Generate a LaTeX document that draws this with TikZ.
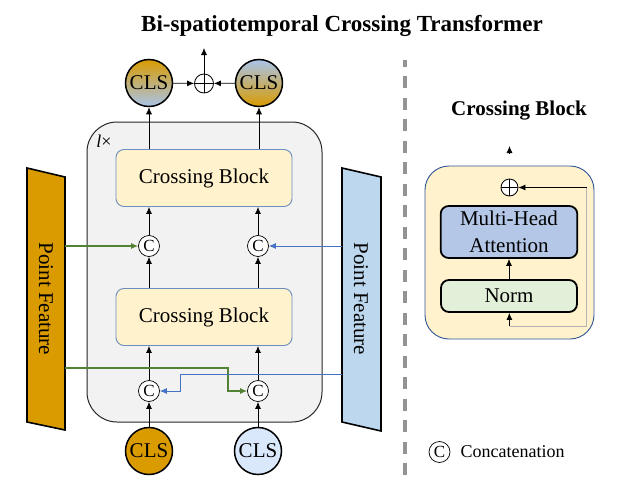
\documentclass[tikz,border=0pt]{standalone}
\usepackage{fontspec}
\setmainfont{Liberation Serif}
\usepackage{tikz}
\usetikzlibrary{shapes,arrows,arrows.meta}
\definecolor{pforange}{HTML}{D99B00}
\definecolor{pfblue}{HTML}{BDD7EE}
\definecolor{clsblue}{HTML}{DAE8FC}
\definecolor{shblue}{HTML}{A9C4EB}
\definecolor{blkfill}{HTML}{FFF2CC}
\definecolor{blkedge}{HTML}{6C8EBF}
\definecolor{mhafill}{HTML}{B4C7E7}
\definecolor{normfill}{HTML}{E2F0D9}
\definecolor{gline}{HTML}{548235}
\definecolor{bline}{HTML}{4472C4}
\definecolor{outer}{HTML}{F2F2F2}
\definecolor{detedge}{HTML}{2F5597}
\tikzstyle{block} = [draw=blkedge, fill=blkfill, rounded corners=8pt, line width=0.9pt,
    minimum width=176pt, minimum height=57pt]
\tikzstyle{cat} = [draw, circle, fill=white, inner sep=0pt, minimum size=21pt, line width=0.7pt,
    font=\fontsize{17}{17}\selectfont]
\tikzstyle{cls} = [draw, circle, inner sep=0pt, minimum size=47pt, line width=1.5pt]
\tikzstyle{oplus} = [draw, circle, fill=white, inner sep=0pt, minimum size=19pt, line width=0.8pt,
    path picture={\draw[line width=0.8pt] (path picture bounding box.north) -- (path picture bounding box.south)
    (path picture bounding box.west) -- (path picture bounding box.east);}]
\tikzstyle{feat} = [draw, line width=1.6pt]
\tikzstyle{inner} = [draw, line width=1.8pt, rounded corners=8pt, minimum width=136pt]
\tikzstyle{line} = [draw, -{Latex[length=7pt,width=6pt]}, line width=0.8pt]

\begin{document}
\begin{tikzpicture}[x=1pt, y=-1pt, node distance=60pt, font=\fontsize{21}{24}\selectfont]
    \useasboundingbox (0,0) rectangle (625,485);
    \node [font=\fontsize{23}{26}\selectfont\bfseries] (title) at (342,26) {Bi-spatiotemporal Crossing Transformer};
    \node [draw=black!85, fill=outer, rounded corners=30pt, line width=1pt, minimum width=235pt, minimum height=300pt] (layer) at (204.5,272) {};
    \node [font=\fontsize{18}{18}\selectfont] (rep) at (104,141) {{\itshape l}×};
    \node [cls, fill=pforange] (clsbl) at (149,451) {CLS};
    \node [cls, fill=clsblue, right of=clsbl, node distance=109pt] (clsbr) {CLS};
    \node [cat, above of=clsbl] (catbl) {C};
    \node [cat, above of=clsbr] (catbr) {C};
    \node [block] (cblow) at (204,317) {Crossing Block};
    \node [cat] (cattl) at (149,246) {C};
    \node [cat, right of=cattl, node distance=109pt] (cattr) {C};
    \node [block] (cbtop) at (204,178) {Crossing Block};
    \node [cls, top color=pforange, bottom color=shblue] (clstl) at (149,83) {CLS};
    \node [cls, top color=shblue, bottom color=pforange, right of=clstl, node distance=110pt] (clstr) {CLS};
    \node [oplus] (sum) at (204,83.5) {};
    \coordinate (out) at (204,48);
    \path (27,168) coordinate (pfl-nw) (65,177) coordinate (pfl-ne) (65,430) coordinate (pfl-se) (27,422) coordinate (pfl-sw);
    \path (342,168) coordinate (pfr-nw) (381,177) coordinate (pfr-ne) (381,431) coordinate (pfr-se) (342,422) coordinate (pfr-sw);
    \draw [feat, fill=pforange] (pfl-nw) -- (pfl-ne) -- (pfl-se) -- (pfl-sw) -- cycle;
    \draw [feat, fill=pfblue] (pfr-nw) -- (pfr-ne) -- (pfr-se) -- (pfr-sw) -- cycle;
    \node [rotate=-90] (pfl) at (46,299) {Point Feature};
    \node [rotate=-90] (pfr) at (361,299) {Point Feature};
    \path [line] (clsbl) -- (catbl);
    \path [line] (clsbr) -- (catbr);
    \path [line] (catbl) -- (catbl |- cblow.south);
    \path [line] (catbr) -- (catbr |- cblow.south);
    \path [line] (cattl |- cblow.north) -- (cattl);
    \path [line] (cattr |- cblow.north) -- (cattr);
    \path [line] (cattl) -- (cattl |- cbtop.south);
    \path [line] (cattr) -- (cattr |- cbtop.south);
    \path [line] (clstl |- cbtop.north) -- (clstl);
    \path [line] (clstr |- cbtop.north) -- (clstr);
    \path [line] (clstl) -- (sum);
    \path [line] (clstr) -- (sum);
    \path [line] (sum) -- (out);
    \path [line, draw=gline, line width=1.2pt] (pfl-ne |- cattl) -- (cattl);
    \path [line, draw=bline] (pfr-nw |- cattr) -- (cattr);
    \path [line, draw=gline, line width=1.2pt] (65,368) -- (228,368) |- (catbr);
    \path [line, draw=bline] (342,374) -- (180,374) |- (catbl);
    \draw [gray!85, line width=3.5pt, dash pattern=on 12pt off 9.5pt] (405,475) -- (405,60);
    \node [font=\fontsize{21}{24}\selectfont\bfseries] (title2) at (519,111) {Crossing Block};
    \node [draw=detedge, fill=blkfill, rounded corners=24pt, line width=0.9pt, minimum width=169pt, minimum height=173pt] (detail) at (509.5,252.5) {};
    \node [oplus, minimum size=17pt] (sum2) at (509.5,187.5) {};
    \node [inner, fill=mhafill, minimum height=52pt, text width=130pt, align=center] (mha) at (509,232) {Multi-Head\\[3pt] Attention};
    \node [inner, fill=normfill, minimum height=32pt] (norm) at (509,296) {Norm};
    \coordinate (res) at (509.5,326);
    \coordinate (resr) at (586.5,326);
    \coordinate (obase) at (509.5,153);
    \coordinate (otip) at (509.5,146);
    \path [line] (norm) -- (mha);
    \path [line] (res) -- (norm);
    \path [line] (obase) -- (otip);
    \draw [black!30, line width=0.7pt] (res) -- (resr) -- (resr |- sum2);
    \path [line] (resr |- sum2) -- (sum2);
    \node [cat] (legc) at (439.5,452) {C};
    \node [right, font=\fontsize{18}{20}\selectfont] (legt) at (457,452) {Concatenation};
\end{tikzpicture}
\end{document}
